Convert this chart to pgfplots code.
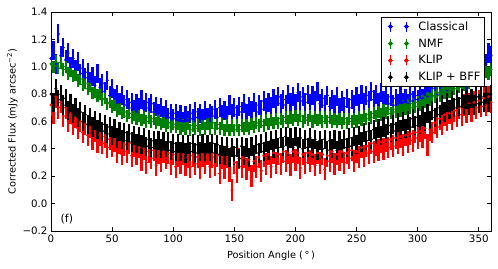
\documentclass[border=0pt]{standalone}
\usepackage{fontspec}
\setmainfont{DejaVu Sans}
\usepackage{pgfplots}
\usepackage{pgfplotstable}
\pgfplotsset{compat=1.18}

\pgfplotstableread[row sep=\\]{x y\\
0 1.06\\ 2 1.12\\ 4 1.02\\ 6 1.24\\ 8 1.08\\ 10 1.14\\ 12 1.05\\ 14 1.10\\ 16 1.00\\ 18 1.06\\
20 0.98\\ 22 1.04\\ 24 0.95\\ 26 0.99\\ 28 0.92\\ 30 0.96\\ 32 0.89\\ 34 0.93\\ 36 0.86\\ 38 0.95\\
40 0.85\\ 42 0.88\\ 44 0.82\\ 46 0.90\\ 48 0.79\\ 50 0.84\\ 52 0.77\\ 54 0.80\\ 56 0.74\\ 58 0.79\\
60 0.72\\ 62 0.76\\ 64 0.70\\ 66 0.74\\ 68 0.69\\ 70 0.73\\ 72 0.70\\ 74 0.76\\ 76 0.69\\ 78 0.74\\
80 0.70\\ 82 0.73\\ 84 0.67\\ 86 0.71\\ 88 0.66\\ 90 0.70\\ 92 0.64\\ 94 0.69\\ 96 0.63\\ 98 0.66\\
100 0.62\\ 102 0.66\\ 104 0.61\\ 106 0.65\\ 108 0.60\\ 110 0.64\\ 112 0.61\\ 114 0.66\\ 116 0.62\\ 118 0.67\\
120 0.63\\ 122 0.66\\ 124 0.62\\ 126 0.68\\ 128 0.63\\ 130 0.66\\ 132 0.64\\ 134 0.69\\ 136 0.63\\ 138 0.70\\
140 0.65\\ 142 0.68\\ 144 0.64\\ 146 0.72\\ 148 0.66\\ 150 0.70\\ 152 0.65\\ 154 0.71\\ 156 0.67\\ 158 0.73\\
160 0.66\\ 162 0.71\\ 164 0.68\\ 166 0.74\\ 168 0.67\\ 170 0.72\\ 172 0.69\\ 174 0.75\\ 176 0.70\\ 178 0.74\\
180 0.71\\ 182 0.77\\ 184 0.72\\ 186 0.78\\ 188 0.73\\ 190 0.76\\ 192 0.72\\ 194 0.80\\ 196 0.74\\ 198 0.78\\
200 0.73\\ 202 0.81\\ 204 0.75\\ 206 0.78\\ 208 0.74\\ 210 0.80\\ 212 0.73\\ 214 0.79\\ 216 0.75\\ 218 0.82\\
220 0.73\\ 222 0.77\\ 224 0.72\\ 226 0.79\\ 228 0.71\\ 230 0.76\\ 232 0.72\\ 234 0.78\\ 236 0.70\\ 238 0.75\\
240 0.71\\ 242 0.77\\ 244 0.70\\ 246 0.76\\ 248 0.72\\ 250 0.78\\ 252 0.73\\ 254 0.80\\ 256 0.74\\ 258 0.79\\
260 0.75\\ 262 0.82\\ 264 0.76\\ 266 0.80\\ 268 0.74\\ 270 0.81\\ 272 0.75\\ 274 0.79\\ 276 0.73\\ 278 0.78\\
280 0.72\\ 282 0.77\\ 284 0.73\\ 286 0.79\\ 288 0.74\\ 290 0.77\\ 292 0.73\\ 294 0.80\\ 296 0.75\\ 298 0.79\\
300 0.76\\ 302 0.82\\ 304 0.77\\ 306 0.81\\ 308 0.78\\ 310 0.83\\ 312 0.79\\ 314 0.84\\ 316 0.80\\ 318 0.86\\
320 0.82\\ 322 0.87\\ 324 0.83\\ 326 0.89\\ 328 0.85\\ 330 0.90\\ 332 0.86\\ 334 0.92\\ 336 0.88\\ 338 0.94\\
340 0.90\\ 342 0.96\\ 344 0.92\\ 346 0.99\\ 348 0.95\\ 350 1.01\\ 352 0.98\\ 354 1.06\\ 356 1.02\\ 358 1.10\\
360 1.08\\
}\tblue

\pgfplotstableread[row sep=\\]{x y\\
0 1.02\\ 2 1.00\\ 4 1.04\\ 6 0.99\\ 8 1.03\\ 10 0.98\\ 12 1.00\\ 14 0.95\\ 16 0.97\\ 18 0.93\\
20 0.94\\ 22 0.90\\ 24 0.91\\ 26 0.87\\ 28 0.88\\ 30 0.84\\ 32 0.86\\ 34 0.81\\ 36 0.82\\ 38 0.79\\
40 0.80\\ 42 0.76\\ 44 0.77\\ 46 0.73\\ 48 0.74\\ 50 0.71\\ 52 0.72\\ 54 0.68\\ 56 0.69\\ 58 0.66\\
60 0.67\\ 62 0.64\\ 64 0.66\\ 66 0.63\\ 68 0.65\\ 70 0.62\\ 72 0.64\\ 74 0.61\\ 76 0.63\\ 78 0.60\\
80 0.63\\ 82 0.60\\ 84 0.62\\ 86 0.59\\ 88 0.61\\ 90 0.58\\ 92 0.60\\ 94 0.57\\ 96 0.59\\ 98 0.56\\
100 0.58\\ 102 0.56\\ 104 0.58\\ 106 0.55\\ 108 0.57\\ 110 0.55\\ 112 0.58\\ 114 0.54\\ 116 0.57\\ 118 0.55\\
120 0.57\\ 122 0.54\\ 124 0.58\\ 126 0.55\\ 128 0.58\\ 130 0.55\\ 132 0.59\\ 134 0.55\\ 136 0.58\\ 138 0.55\\
140 0.58\\ 142 0.54\\ 144 0.57\\ 146 0.54\\ 148 0.57\\ 150 0.54\\ 152 0.57\\ 154 0.54\\ 156 0.57\\ 158 0.55\\
160 0.57\\ 162 0.55\\ 164 0.58\\ 166 0.56\\ 168 0.59\\ 170 0.57\\ 172 0.60\\ 174 0.57\\ 176 0.61\\ 178 0.58\\
180 0.61\\ 182 0.59\\ 184 0.62\\ 186 0.59\\ 188 0.62\\ 190 0.60\\ 192 0.63\\ 194 0.60\\ 196 0.63\\ 198 0.61\\
200 0.64\\ 202 0.61\\ 204 0.64\\ 206 0.60\\ 208 0.63\\ 210 0.61\\ 212 0.64\\ 214 0.60\\ 216 0.63\\ 218 0.61\\
220 0.63\\ 222 0.60\\ 224 0.63\\ 226 0.60\\ 228 0.63\\ 230 0.60\\ 232 0.62\\ 234 0.60\\ 236 0.62\\ 238 0.59\\
240 0.62\\ 242 0.59\\ 244 0.62\\ 246 0.60\\ 248 0.62\\ 250 0.60\\ 252 0.63\\ 254 0.61\\ 256 0.64\\ 258 0.62\\
260 0.65\\ 262 0.63\\ 264 0.66\\ 266 0.64\\ 268 0.67\\ 270 0.65\\ 272 0.68\\ 274 0.66\\ 276 0.69\\ 278 0.66\\
280 0.69\\ 282 0.67\\ 284 0.70\\ 286 0.68\\ 288 0.71\\ 290 0.69\\ 292 0.72\\ 294 0.70\\ 296 0.73\\ 298 0.71\\
300 0.74\\ 302 0.72\\ 304 0.75\\ 306 0.74\\ 308 0.77\\ 310 0.76\\ 312 0.79\\ 314 0.78\\ 316 0.81\\ 318 0.79\\
320 0.82\\ 322 0.81\\ 324 0.84\\ 326 0.82\\ 328 0.85\\ 330 0.84\\ 332 0.87\\ 334 0.85\\ 336 0.88\\ 338 0.87\\
340 0.90\\ 342 0.88\\ 344 0.91\\ 346 0.90\\ 348 0.93\\ 350 0.92\\ 352 0.95\\ 354 0.93\\ 356 0.96\\ 358 0.95\\
360 0.98\\
}\tgreen

\pgfplotstableread[row sep=\\]{x y\\
0 0.72\\ 2 0.66\\ 4 0.78\\ 6 0.70\\ 8 0.74\\ 10 0.64\\ 12 0.70\\ 14 0.60\\ 16 0.66\\ 18 0.58\\
20 0.63\\ 22 0.55\\ 24 0.60\\ 26 0.52\\ 28 0.58\\ 30 0.50\\ 32 0.56\\ 34 0.47\\ 36 0.53\\ 38 0.45\\
40 0.50\\ 42 0.44\\ 44 0.49\\ 46 0.41\\ 48 0.47\\ 50 0.42\\ 52 0.46\\ 54 0.38\\ 56 0.44\\ 58 0.36\\
60 0.43\\ 62 0.38\\ 64 0.44\\ 66 0.35\\ 68 0.42\\ 70 0.36\\ 72 0.41\\ 74 0.32\\ 76 0.40\\ 78 0.30\\
80 0.38\\ 82 0.33\\ 84 0.39\\ 86 0.28\\ 88 0.37\\ 90 0.31\\ 92 0.38\\ 94 0.33\\ 96 0.37\\ 98 0.29\\
100 0.36\\ 102 0.27\\ 104 0.35\\ 106 0.30\\ 108 0.36\\ 110 0.28\\ 112 0.34\\ 114 0.27\\ 116 0.35\\ 118 0.29\\
120 0.34\\ 122 0.26\\ 124 0.35\\ 126 0.30\\ 128 0.36\\ 130 0.27\\ 132 0.34\\ 134 0.28\\ 136 0.35\\ 138 0.22\\
140 0.33\\ 142 0.26\\ 144 0.34\\ 146 0.24\\ 148 0.10\\ 150 0.30\\ 152 0.23\\ 154 0.33\\ 156 0.27\\ 158 0.34\\
160 0.25\\ 162 0.32\\ 164 0.20\\ 166 0.31\\ 168 0.27\\ 170 0.34\\ 172 0.24\\ 174 0.35\\ 176 0.29\\ 178 0.36\\
180 0.27\\ 182 0.37\\ 184 0.30\\ 186 0.36\\ 188 0.29\\ 190 0.38\\ 192 0.31\\ 194 0.37\\ 196 0.28\\ 198 0.38\\
200 0.32\\ 202 0.37\\ 204 0.26\\ 206 0.36\\ 208 0.30\\ 210 0.37\\ 212 0.31\\ 214 0.36\\ 216 0.28\\ 218 0.37\\
220 0.30\\ 222 0.36\\ 224 0.25\\ 226 0.35\\ 228 0.31\\ 230 0.38\\ 232 0.29\\ 234 0.36\\ 236 0.32\\ 238 0.38\\
240 0.30\\ 242 0.37\\ 244 0.33\\ 246 0.39\\ 248 0.31\\ 250 0.38\\ 252 0.34\\ 254 0.41\\ 256 0.35\\ 258 0.42\\
260 0.37\\ 262 0.44\\ 264 0.38\\ 266 0.43\\ 268 0.39\\ 270 0.45\\ 272 0.40\\ 274 0.46\\ 276 0.41\\ 278 0.47\\
280 0.42\\ 282 0.48\\ 284 0.44\\ 286 0.49\\ 288 0.43\\ 290 0.50\\ 292 0.45\\ 294 0.51\\ 296 0.46\\ 298 0.52\\
300 0.48\\ 302 0.53\\ 304 0.49\\ 306 0.55\\ 308 0.43\\ 310 0.54\\ 312 0.52\\ 314 0.59\\ 316 0.56\\ 318 0.62\\
320 0.58\\ 322 0.65\\ 324 0.61\\ 326 0.66\\ 328 0.62\\ 330 0.68\\ 332 0.64\\ 334 0.70\\ 336 0.65\\ 338 0.72\\
340 0.67\\ 342 0.73\\ 344 0.68\\ 346 0.74\\ 348 0.70\\ 350 0.75\\ 352 0.71\\ 354 0.77\\ 356 0.72\\ 358 0.78\\
360 0.74\\
}\tred

\pgfplotstableread[row sep=\\]{x y\\
0 0.80\\ 2 0.74\\ 4 0.84\\ 6 0.76\\ 8 0.80\\ 10 0.72\\ 12 0.77\\ 14 0.68\\ 16 0.73\\ 18 0.66\\
20 0.70\\ 22 0.63\\ 24 0.67\\ 26 0.60\\ 28 0.65\\ 30 0.58\\ 32 0.63\\ 34 0.56\\ 36 0.61\\ 38 0.54\\
40 0.59\\ 42 0.53\\ 44 0.58\\ 46 0.51\\ 48 0.56\\ 50 0.50\\ 52 0.55\\ 54 0.48\\ 56 0.53\\ 58 0.47\\
60 0.52\\ 62 0.46\\ 64 0.51\\ 66 0.45\\ 68 0.50\\ 70 0.44\\ 72 0.49\\ 74 0.43\\ 76 0.48\\ 78 0.42\\
80 0.47\\ 82 0.41\\ 84 0.46\\ 86 0.40\\ 88 0.46\\ 90 0.40\\ 92 0.45\\ 94 0.39\\ 96 0.45\\ 98 0.39\\
100 0.44\\ 102 0.38\\ 104 0.44\\ 106 0.38\\ 108 0.43\\ 110 0.37\\ 112 0.43\\ 114 0.38\\ 116 0.44\\ 118 0.37\\
120 0.43\\ 122 0.38\\ 124 0.44\\ 126 0.37\\ 128 0.43\\ 130 0.38\\ 132 0.44\\ 134 0.37\\ 136 0.43\\ 138 0.36\\
140 0.42\\ 142 0.35\\ 144 0.42\\ 146 0.34\\ 148 0.41\\ 150 0.35\\ 152 0.41\\ 154 0.33\\ 156 0.42\\ 158 0.35\\
160 0.41\\ 162 0.34\\ 164 0.42\\ 166 0.36\\ 168 0.43\\ 170 0.37\\ 172 0.44\\ 174 0.38\\ 176 0.45\\ 178 0.39\\
180 0.46\\ 182 0.40\\ 184 0.47\\ 186 0.41\\ 188 0.48\\ 190 0.42\\ 192 0.49\\ 194 0.42\\ 196 0.48\\ 198 0.41\\
200 0.49\\ 202 0.42\\ 204 0.48\\ 206 0.40\\ 208 0.47\\ 210 0.41\\ 212 0.48\\ 214 0.40\\ 216 0.47\\ 218 0.39\\
220 0.46\\ 222 0.40\\ 224 0.47\\ 226 0.39\\ 228 0.46\\ 230 0.40\\ 232 0.47\\ 234 0.39\\ 236 0.46\\ 238 0.40\\
240 0.47\\ 242 0.41\\ 244 0.48\\ 246 0.42\\ 248 0.49\\ 250 0.43\\ 252 0.50\\ 254 0.45\\ 256 0.52\\ 258 0.46\\
260 0.53\\ 262 0.47\\ 264 0.54\\ 266 0.49\\ 268 0.55\\ 270 0.50\\ 272 0.56\\ 274 0.51\\ 276 0.57\\ 278 0.52\\
280 0.58\\ 282 0.53\\ 284 0.59\\ 286 0.54\\ 288 0.60\\ 290 0.55\\ 292 0.61\\ 294 0.56\\ 296 0.62\\ 298 0.57\\
300 0.63\\ 302 0.58\\ 304 0.64\\ 306 0.60\\ 308 0.66\\ 310 0.61\\ 312 0.68\\ 314 0.63\\ 316 0.70\\ 318 0.65\\
320 0.72\\ 322 0.67\\ 324 0.74\\ 326 0.69\\ 328 0.75\\ 330 0.70\\ 332 0.76\\ 334 0.71\\ 336 0.77\\ 338 0.72\\
340 0.76\\ 342 0.72\\ 344 0.77\\ 346 0.72\\ 348 0.78\\ 350 0.73\\ 352 0.78\\ 354 0.74\\ 356 0.79\\ 358 0.74\\
360 0.80\\
}\tblack

\definecolor{mplgreen}{rgb}{0,0.5,0}

\pgfplotsset{
  ebimg/.style={legend image code/.code={
    \path[draw=none,fill=none] (-3bp,0) rectangle (30bp,1bp);
    \draw[#1,line width=1.1bp] (4bp,-5bp)--(4bp,5bp) (20bp,-5bp)--(20bp,5bp);
    \fill[#1] (4bp,0) circle (1.8bp) (20bp,0) circle (1.8bp);}},
}

\begin{document}
\begin{tikzpicture}
\begin{axis}[
  name=ax,
  scale only axis,
  width=440bp, height=219bp,
  xmin=0, xmax=360, ymin=-0.2, ymax=1.4,
  xtick={0,50,...,350},
  ytick={-0.2,0,0.2,0.4,0.6,0.8,1.0,1.2,1.4},
  yticklabels={−0.2,0.0,0.2,0.4,0.6,0.8,1.0,1.2,1.4},
  /pgf/number format/assume math mode=true,
  tick align=inside,
  major tick length=4bp,
  minor tick num=0,
  tick style={black, line width=0.8bp},
  axis line style={line width=1bp},
  ticklabel style={font=\fontsize{10.3}{12}\selectfont},
  label style={font=\fontsize{9.8}{12}\selectfont},
  xlabel={Position Angle (\,°\,)},
  ylabel={Corrected Flux (mJy arcsec\textsuperscript{−2})},
  xlabel style={yshift=-2bp},
  ylabel style={yshift=-2bp},
  legend style={at={(1,1)}, anchor=north east, xshift=-6bp, yshift=-5bp,
    draw=black, line width=1bp, font=\fontsize{11.5}{13}\selectfont,
    inner xsep=2bp, inner ysep=2bp, row sep=3bp, cells={anchor=west}},
  legend cell align=left,
]
\addplot[blue, only marks, mark=*, mark size=1.3bp, forget plot,
  error bars/.cd, y dir=both, y fixed=0.07,
  error mark=none, error bar style={line width=2.3bp, blue}]
  table[x=x,y=y] {\tblue};
\addplot[mplgreen, only marks, mark=*, mark size=1.3bp, forget plot,
  error bars/.cd, y dir=both, y fixed=0.045,
  error mark=none, error bar style={line width=2.3bp, mplgreen}]
  table[x=x,y=y] {\tgreen};
\addplot[red, only marks, mark=*, mark size=1.3bp, forget plot,
  error bars/.cd, y dir=both, y fixed=0.08,
  error mark=none, error bar style={line width=2.3bp, red}]
  table[x=x,y=y] {\tred};
\addplot[black, only marks, mark=*, mark size=1.3bp, forget plot,
  error bars/.cd, y dir=both, y fixed=0.07,
  error mark=none, error bar style={line width=2.3bp, black}]
  table[x=x,y=y] {\tblack};

\addlegendimage{ebimg=blue}
\addlegendentry{Classical}
\addlegendimage{ebimg=mplgreen}
\addlegendentry{NMF}
\addlegendimage{ebimg=red}
\addlegendentry{KLIP}
\addlegendimage{ebimg=black}
\addlegendentry{KLIP + BFF}

\node[anchor=west, font=\fontsize{11}{13}\selectfont] at (rel axis cs:0.014,0.055) {(f)};
\end{axis}
\useasboundingbox ([xshift=-51bp,yshift=-37bp]ax.south west) rectangle ([xshift=7bp,yshift=12bp]ax.north east);
\end{tikzpicture}
\end{document}
